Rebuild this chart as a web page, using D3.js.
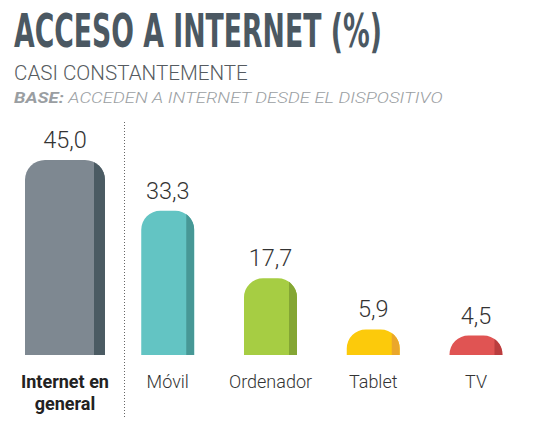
<!DOCTYPE html>
<html>
<head>
<meta charset="utf-8">
<script src="https://cdn.jsdelivr.net/npm/d3@7"></script>
<style>
  body { margin: 0; background: #fff; }
  svg { display: block; }
</style>
</head>
<body>
<script>
// data
const categories = ['Internet en general', 'Móvil', 'Ordenador', 'Tablet', 'TV'];
const values = [45.0, 33.3, 17.7, 5.9, 4.5];
const lightColors = ['#7e8891', '#63c4c3', '#a6cd43', '#fcca0b', '#e05453'];
const darkColors = ['#4b5b63', '#479896', '#84a634', '#eaa72b', '#ba3d3e'];

const width = 560;
const height = 424;
const baseline = 355;

const svg = d3.select('body')
.append('svg')
.attr('width', width)
.attr('height', height);

// titles: title is squeezed to the reference width with a transform
const title = svg.append('text')
.attr('font-family', '"Liberation Sans Narrow", "DejaVu Sans Condensed", sans-serif')
.attr('font-weight', 'bold')
.attr('font-size', 47)
.attr('fill', '#4b5862')
.text('ACCESO A INTERNET (%)');
const titleW = title.node().getComputedTextLength();
title.attr('transform', `translate(14,47) scale(${368 / titleW},1)`);

const sub = svg.append('text')
.attr('font-family', 'Roboto, sans-serif')
.attr('font-weight', 300)
.attr('font-size', 20)
.attr('fill', '#555b60')
.text('CASI CONSTANTEMENTE');
const subW = sub.node().getComputedTextLength();
sub.attr('transform', `translate(14,80) scale(${234 / subW},1)`);

const base = svg.append('text')
.attr('font-family', 'Roboto, sans-serif')
.attr('font-style', 'italic')
.attr('font-size', 15.5)
.attr('fill', '#9a9ea2');
base.append('tspan').attr('font-weight', 'bold').text('BASE:');
base.append('tspan').attr('font-weight', 300).text(' ACCEDEN A INTERNET DESDE EL DISPOSITIVO');
const baseW = base.node().getComputedTextLength();
base.attr('transform', `translate(14,103) scale(${429 / baseW},1)`);

// scales
const xScale = d3.scalePoint()
.domain(categories)
.range([65, 476]);

const yScale = d3.scaleLinear()
.domain([0, 45])
.range([baseline, 160]);

const barWidth = (d, i) => i === 0 ? 80 : 53;
const stripWidth = (d, i) => i === 0 ? 11 : 8;

function barPath(x0, w, top) {
    const h = baseline - top;
    const rx = Math.min(w * 0.36, 20);
    const ry = Math.min(rx, h);
    return `M${x0},${baseline}V${top + ry}A${rx},${ry} 0 0 1 ${x0 + rx},${top}` +
        `H${x0 + w - rx}A${rx},${ry} 0 0 1 ${x0 + w},${top + ry}V${baseline}Z`;
}

// separator
svg.append('line')
.attr('x1', 124.5)
.attr('x2', 124.5)
.attr('y1', 122)
.attr('y2', 418)
.attr('stroke', '#666')
.attr('stroke-width', 1)
.attr('stroke-dasharray', '1,2');

const defs = svg.append('defs');

const bars = svg.selectAll('g.bar')
.data(categories)
.enter()
.append('g')
.attr('class', 'bar');

bars.each(function (d, i) {
    const g = d3.select(this);
    const w = barWidth(d, i);
    const x0 = xScale(d) - w / 2;
    const top = yScale(values[i]);
    const p = barPath(x0, w, top);

    defs.append('clipPath')
    .attr('id', 'strip' + i)
    .append('rect')
    .attr('x', x0 + w - stripWidth(d, i))
    .attr('y', 0)
    .attr('width', stripWidth(d, i))
    .attr('height', baseline);

    g.append('path')
    .attr('d', p)
    .attr('fill', lightColors[i]);

    g.append('path')
    .attr('d', p)
    .attr('fill', darkColors[i])
    .attr('clip-path', `url(#strip${i})`);

    // value label
    g.append('text')
    .attr('x', xScale(d))
    .attr('y', top - 12)
    .attr('text-anchor', 'middle')
    .attr('font-family', 'Roboto, sans-serif')
    .attr('font-weight', 300)
    .attr('font-size', 23.5)
    .attr('fill', '#333')
    .text(d3.format('.1f')(values[i]).replace('.', ','));
});

// category labels
const catLines = [['Internet en', 'general'], ['Móvil'], ['Ordenador'], ['Tablet'], ['TV']];
bars.append('text')
.attr('x', d => xScale(d))
.attr('y', 388)
.attr('text-anchor', 'middle')
.attr('font-family', 'Roboto, sans-serif')
.attr('font-weight', (d, i) => i === 0 ? 'bold' : 300)
.attr('font-size', 18)
.attr('fill', (d, i) => i === 0 ? '#222' : '#333')
.each(function (d, i) {
    d3.select(this).selectAll('tspan')
    .data(catLines[i])
    .enter()
    .append('tspan')
    .attr('x', xScale(d))
    .attr('dy', (t, j) => j === 0 ? 0 : 22)
    .text(t => t);
});
</script>
</body>
</html>
